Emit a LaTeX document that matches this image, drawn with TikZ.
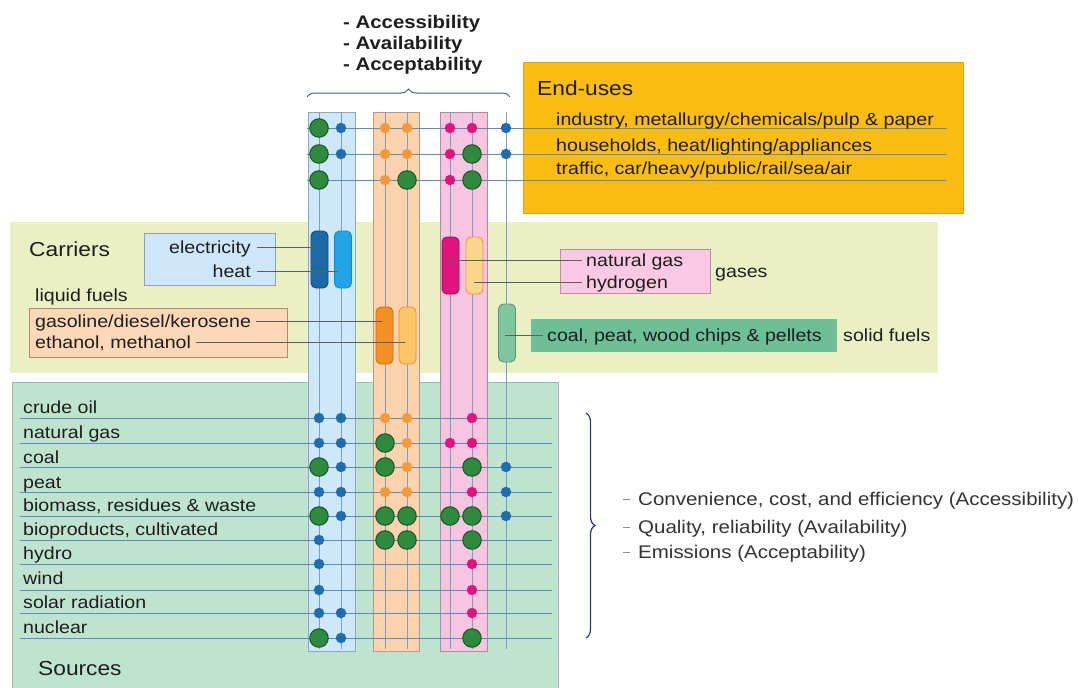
\documentclass[tikz,border=0pt]{standalone}
\usepackage{fontspec}
\setmainfont[FakeStretch=1.12]{Liberation Sans}
\usetikzlibrary{decorations.pathreplacing}

\definecolor{carrbg}{HTML}{EAF0C3}
\definecolor{srcbg}{HTML}{BEE3CF}
\definecolor{srcedge}{HTML}{A8B8B0}
\definecolor{endbg}{HTML}{FBBC14}
\definecolor{endedge}{HTML}{E2A21A}
\definecolor{colblue}{HTML}{CDE7FB}
\definecolor{colblueE}{HTML}{8FA6C0}
\definecolor{colorg}{HTML}{FDD3AE}
\definecolor{colorgE}{HTML}{B89A86}
\definecolor{colpink}{HTML}{F8C5E0}
\definecolor{colpinkE}{HTML}{A8909E}
\definecolor{gridc}{HTML}{5A8CC0}
\definecolor{vgrid}{HTML}{7F9DBE}
\definecolor{dotblue}{HTML}{1F6DB0}
\definecolor{dotorg}{HTML}{F49A3A}
\definecolor{dotmag}{HTML}{DF147D}
\definecolor{dotgreen}{HTML}{2E8A3C}
\definecolor{dotgreenE}{HTML}{1C5626}
\definecolor{txtc}{HTML}{1E1E1E}
\definecolor{elecbg}{HTML}{CDE6FA}
\definecolor{elecE}{HTML}{8DA2B5}
\definecolor{liqbg}{HTML}{FCD8B6}
\definecolor{liqE}{HTML}{B48A6A}
\definecolor{gasbg}{HTML}{F9C8E2}
\definecolor{gasE}{HTML}{C08AA0}
\definecolor{solbg}{HTML}{6DBF98}
\definecolor{bracec}{HTML}{4A5C86}
\definecolor{bracer}{HTML}{2C3A7E}
\definecolor{connc}{HTML}{5E5E5E}

\tikzset{
  lbl/.style={anchor=west, inner sep=0pt, text=txtc, text height=12.5pt, text depth=0pt,
              font=\fontsize{17.5}{20}\selectfont},
  lble/.style={lbl, anchor=east},
  head/.style={lbl, text height=14.5pt, font=\fontsize{20.3}{24}\selectfont},
  topbold/.style={lbl, font=\fontsize{18.2}{21}\selectfont\bfseries},
  rtext/.style={lbl, text=black!80, font=\fontsize{18.3}{21}\selectfont},
  hgrid/.style={draw=gridc, line width=0.9pt},
  vgridline/.style={draw=vgrid, line width=0.9pt},
  conn/.style={draw=connc, line width=0.8pt},
  pillbox/.style={rounded corners=5pt, line width=0.9pt, inner sep=0pt,
                  minimum width=17pt, minimum height=57pt},
  sdot/.style={circle, inner sep=0pt, minimum size=10.5pt},
  bdot/.style={sdot, fill=dotblue},
  odot/.style={sdot, fill=dotorg},
  mdot/.style={sdot, fill=dotmag},
  gdot/.style={circle, inner sep=0pt, minimum size=18.5pt, fill=dotgreen,
               draw=dotgreenE, line width=1pt},
}

\begin{document}
\begin{tikzpicture}[x=1pt, y=-1pt]
\useasboundingbox (0,0) rectangle (1079,688);
\fill[white] (0,0) rectangle (1079,688);

% background bands
\fill[carrbg] (10,222) rectangle (938,373);
\filldraw[fill=srcbg, draw=srcedge, line width=0.8pt] (12,382) rectangle (558,690);
\filldraw[fill=endbg, draw=endedge, line width=0.8pt] (523,62) rectangle (963,213);

% columns
\filldraw[fill=colblue, draw=colblueE, line width=0.8pt] (308,112) rectangle (355,651);
\filldraw[fill=colorg, draw=colorgE, line width=0.8pt] (373,112) rectangle (419,651);
\filldraw[fill=colpink, draw=colpinkE, line width=0.8pt] (440,112) rectangle (487,651);

% vertical grid
\foreach \x [count=\i] in {319,341,385,407,450,472,506} {
  \coordinate (vT\i) at (\x,112);
  \coordinate (vB\i) at (\x,649);
  \draw[vgridline] (vT\i) -- (vB\i);
}

% end-use rows
\foreach \y [count=\i] in {128,154,180} {
  \coordinate (eL\i) at (307,\y);
  \coordinate (eR\i) at (947,\y);
  \draw[hgrid] (eL\i) -- (eR\i);
}

% source rows
\foreach \y [count=\i] in {418,443,467,492,516,540,564,590,613,638} {
  \coordinate (sL\i) at (20,\y);
  \coordinate (sR\i) at (552,\y);
  \draw[hgrid] (sL\i) -- (sR\i);
}

% carrier boxes
\filldraw[fill=elecbg, draw=elecE, line width=0.8pt] (144,233) rectangle (275,285);
\filldraw[fill=liqbg, draw=liqE, line width=0.8pt] (29,308) rectangle (287,357);
\filldraw[fill=gasbg, draw=gasE, line width=0.8pt] (560,249) rectangle (710,293);
\fill[solbg] (531,319) rectangle (837,352);

% carrier pills
\node[pillbox, fill=dotblue!95!black, draw=dotblue!70!black] (pB1) at (319.5,259.5) {};
\node[pillbox, fill={rgb,255:red,34;green,165;blue,230}, draw={rgb,255:red,26;green,136;blue,192}] (pB2) at (343,259.5) {};
\node[pillbox, fill=dotmag, draw=dotmag!70!black] (pP1) at (450.5,265.5) {};
\node[pillbox, fill={rgb,255:red,253;green,213;blue,138}, draw={rgb,255:red,227;green,154;blue,64}] (pP2) at (474.5,265.5) {};
\node[pillbox, fill={rgb,255:red,243;green,145;blue,37}, draw={rgb,255:red,196;green,110;blue,16}] (pO1) at (384.5,335.5) {};
\node[pillbox, fill={rgb,255:red,252;green,197;blue,101}, draw={rgb,255:red,215;green,154;blue,53}] (pO2) at (407.5,335.5) {};
\node[pillbox, minimum height=58pt, fill={rgb,255:red,127;green,198;blue,159}, draw={rgb,255:red,78;green,154;blue,114}] (pG) at (507,333) {};

% carrier labels
\node[head] (tCarr) at (29,249) {Carriers};
\node[lble] (tElec) at (251,247) {electricity};
\node[lble] (tHeat) at (251,271) {heat};
\node[lbl] (tLiq) at (35,295) {liquid fuels};
\node[lbl] (tGas) at (35,321) {gasoline/diesel/kerosene};
\node[lbl] (tEth) at (35,342) {ethanol, methanol};
\node[lbl] (tNG) at (586,260) {natural gas};
\node[lbl] (tH2) at (586,282) {hydrogen};
\node[lbl] (tGases) at (715,271) {gases};
\node[lbl] (tSolid) at (547,335) {coal, peat, wood chips \& pellets};
\node[lbl] (tSolidF) at (843,335) {solid fuels};

% carrier connectors
\draw[conn, shorten <=6pt, shorten >=-4pt] (tElec.east) -- (tElec.east -| pB1.west);
\draw[conn, shorten <=6pt, shorten >=-4pt] (tHeat.east) -- (tHeat.east -| pB2.west);
\draw[conn, shorten <=5pt, shorten >=-6pt] (tGas.east) -- (tGas.east -| pO1.west);
\draw[conn, shorten <=5pt, shorten >=-6pt] (tEth.east) -- (tEth.east -| pO2.west);
\draw[conn, shorten <=-3pt, shorten >=4pt] (tNG.west -| pP1.center) -- (tNG.west);
\draw[conn, shorten <=-1pt, shorten >=4pt] (tH2.west -| pP2.center) -- (tH2.west);
\draw[conn, shorten <=-2pt, shorten >=4pt] (tSolid.west -| pG.center) -- (tSolid.west);

% dots: end-use rows
\foreach \x/\y/\s [count=\i] in {
  319/128/gdot, 341/128/bdot, 385/128/odot, 407/128/odot, 450/128/mdot, 472/128/mdot, 506/128/bdot,
  319/154/gdot, 341/154/bdot, 385/154/odot, 407/154/odot, 450/154/mdot, 472/154/gdot, 506/154/bdot,
  319/180/gdot, 385/180/odot, 407/180/gdot, 450/180/mdot, 472/180/gdot}
  \node[\s] (dE\i) at (\x,\y) {};

% dots: source rows
\foreach \x/\y/\s [count=\i] in {
  319/418/bdot, 341/418/bdot, 385/418/odot, 407/418/odot, 472/418/mdot,
  319/443/bdot, 341/443/bdot, 385/443/gdot, 407/443/odot, 450/443/mdot, 472/443/mdot,
  319/467/gdot, 341/467/bdot, 385/467/gdot, 407/467/odot, 472/467/gdot, 506/467/bdot,
  319/492/bdot, 341/492/bdot, 385/492/odot, 407/492/odot, 472/492/mdot, 506/492/bdot,
  319/516/gdot, 341/516/bdot, 385/516/gdot, 407/516/gdot, 450/516/gdot, 472/516/gdot, 506/516/bdot,
  319/540/bdot, 385/540/gdot, 407/540/gdot, 472/540/gdot,
  319/564/bdot, 472/564/mdot,
  319/590/bdot, 472/590/mdot,
  319/613/bdot, 341/613/bdot, 472/613/mdot,
  319/638/gdot, 341/638/bdot, 472/638/gdot}
  \node[\s] (dS\i) at (\x,\y) {};

% end-use labels
\node[head] (tEnd) at (537,88) {End-uses};
\node[lbl] (tInd) at (556,119) {industry, metallurgy/chemicals/pulp \& paper};
\node[lbl] (tHouse) at (556,145) {households, heat/lighting/appliances};
\node[lbl] (tTraffic) at (556,168) {traffic, car/heavy/public/rail/sea/air};

% source labels
\foreach \t/\y [count=\i] in {crude oil/407, natural gas/432, coal/457, peat/482,
  {biomass, residues \& waste}/505, {bioproducts, cultivated}/529, hydro/553,
  wind/578, solar radiation/602, nuclear/627}
  \node[lbl] (tS\i) at (23,\y) {\t};
\node[head] (tSrc) at (38,668) {Sources};

% criteria over the columns
\node[topbold] (tAcc1) at (343,22) {- Accessibility};
\node[topbold] (tAva1) at (343,43) {- Availability};
\node[topbold] (tAcp1) at (343,64) {- Acceptability};
\coordinate (brL) at (307,97);
\coordinate (brR) at (510,97);
\draw[bracec, line width=1pt, decorate, decoration={brace, amplitude=8pt}] (brL) -- (brR);

% criteria for the sources
\coordinate (brT) at (586,413);
\coordinate (brB) at (586,638);
\draw[bracer, line width=1.2pt, decorate, decoration={brace, amplitude=9pt}] (brT) -- (brB);
\node[rtext] (tConv) at (638,499) {Convenience, cost, and efficiency (Accessibility)};
\node[rtext] (tQual) at (638,527) {Quality, reliability (Availability)};
\node[rtext] (tEmis) at (638,552) {Emissions (Acceptability)};
\foreach \n in {tConv,tQual,tEmis}
  \draw[black!45, line width=0.9pt] ([xshift=-15pt]\n.west) -- ([xshift=-8pt]\n.west);
\end{tikzpicture}
\end{document}
